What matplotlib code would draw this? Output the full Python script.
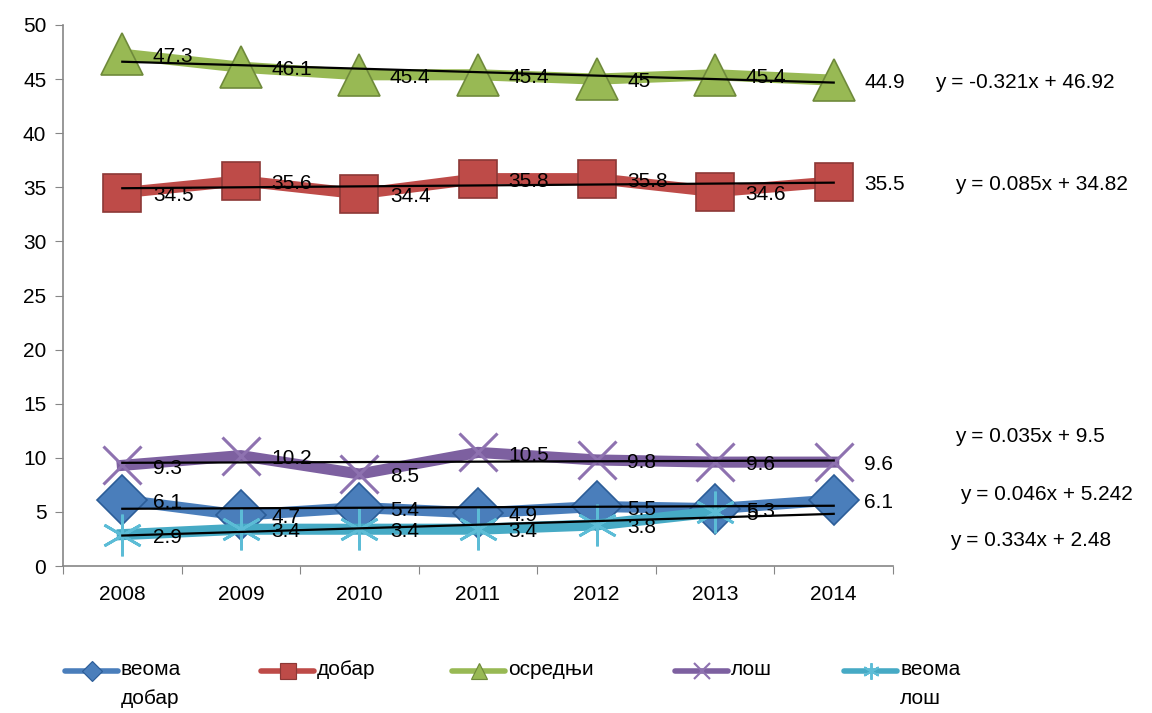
import matplotlib.pyplot as plt
from matplotlib.lines import Line2D
import numpy as np

plt.rcParams['font.family'] = ['Liberation Sans', 'DejaVu Sans']

years = ['2008', '2009', '2010', '2011', '2012', '2013', '2014']
labels = ['веома\nдобар', 'добар', 'осредњи', 'лош', 'веома\nлош']

veoma_dobar = [6.1, 4.7, 5.4, 4.9, 5.5, 5.3, 6.1]
dobar = [34.5, 35.6, 34.4, 35.8, 35.8, 34.6, 35.5]
osrednji = [47.3, 46.1, 45.4, 45.4, 45.0, 45.4, 44.9]
los = [9.3, 10.2, 8.5, 10.5, 9.8, 9.6, 9.6]
veoma_los = [2.9, 3.4, 3.4, 3.4, 3.8, 5.0, np.nan]

# trendline equations as printed on the chart
equations = ['y = -0.321x + 46.92', 'y = 0.085x + 34.82', 'y = 0.035x + 9.5',
             'y = 0.046x + 5.242', 'y = 0.334x + 2.48']
eq_pos = [(935, 82), (955, 185), (955, 437), (960, 495), (950, 541)]

series = [veoma_dobar, dobar, osrednji, los, veoma_los]
colors = ['#4a7ebb', '#be4b48', '#98b954', '#7d60a0', '#46aac5']
edges = ['#2c5d98', '#8c3836', '#6f8a3b', '#8e72b0', '#5cbcd6']
markers = ['D', 's', '^', 'x', (6, 2, 0)]
msizes = [25, 28, 30, 28, 30]
mews = [1.2, 1.2, 1.2, 2.2, 2.0]

W, H = 1152, 713
fig = plt.figure(figsize=(W / 100, H / 100), dpi=100)
ax = fig.add_axes([63 / W, 1 - 566 / H, (893 - 63) / W, (566 - 25) / H])

x = np.arange(1, 8)
for i, vals in enumerate(series):
    v = np.array(vals, dtype=float)
    ax.plot(x, v, color=colors[i], lw=8, marker=markers[i], ms=msizes[i],
            mfc=colors[i], mec=edges[i], mew=mews[i],
            solid_joinstyle='miter', zorder=2 + i * 0.1)

# linear trendlines
for i, vals in enumerate(series):
    v = np.array(vals, dtype=float)
    ok = ~np.isnan(v)
    k, b = np.polyfit(x[ok], v[ok], 1)
    ax.plot(x, k * x + b, color='black', lw=1.6, zorder=4)

# data labels
for i, vals in enumerate(series):
    for xi, val in zip(x, vals):
        if np.isnan(val):
            continue
        ax.annotate(f'{val:g}', (xi, val), xytext=(22, -2), textcoords='offset points',
                    ha='left', va='center', fontsize=15, zorder=5,
                    annotation_clip=False)

for eq, (px, py) in zip(equations, eq_pos):
    fig.text(px / W, 1 - py / H, eq, ha='left', va='center', fontsize=15)

ax.set_xlim(0.5, 7.5)
ax.set_ylim(0, 50)
ax.set_yticks(np.arange(0, 51, 5))
ax.set_xticks(np.arange(0.5, 7.6, 1))
ax.set_xticklabels([])
ax.set_xticks(x, minor=True)
ax.set_xticklabels(years, minor=True)
ax.tick_params(axis='x', which='minor', length=0, pad=14, labelsize=15)
ax.tick_params(axis='x', which='major', length=6, color='#868686')
ax.tick_params(axis='y', length=6, color='#868686', labelsize=15, pad=6)
for s in ['top', 'right']:
    ax.spines[s].set_visible(False)
for s in ['left', 'bottom']:
    ax.spines[s].set_color('#868686')
    ax.spines[s].set_linewidth(1.2)

# legend drawn by hand: handle sits on the first line of a wrapped label
leg_x = [65, 261, 452, 675, 844]
leg_y = 671
for i, lab in enumerate(labels):
    x0 = leg_x[i]
    fig.add_artist(Line2D([x0 / W, (x0 + 53) / W], [1 - leg_y / H] * 2,
                          transform=fig.transFigure, color=colors[i], lw=4,
                          solid_capstyle='round'))
    fig.add_artist(Line2D([(x0 + 26.5) / W], [1 - leg_y / H],
                          transform=fig.transFigure, color=colors[i], lw=0,
                          marker=markers[i], ms=msizes[i] * 0.4,
                          mfc=colors[i], mec=edges[i], mew=mews[i] * 0.7))
    fig.text((x0 + 56) / W, 1 - (leg_y - 11) / H, lab, ha='left', va='top',
             fontsize=15, linespacing=1.65)

fig.savefig('out.png', dpi=100)
